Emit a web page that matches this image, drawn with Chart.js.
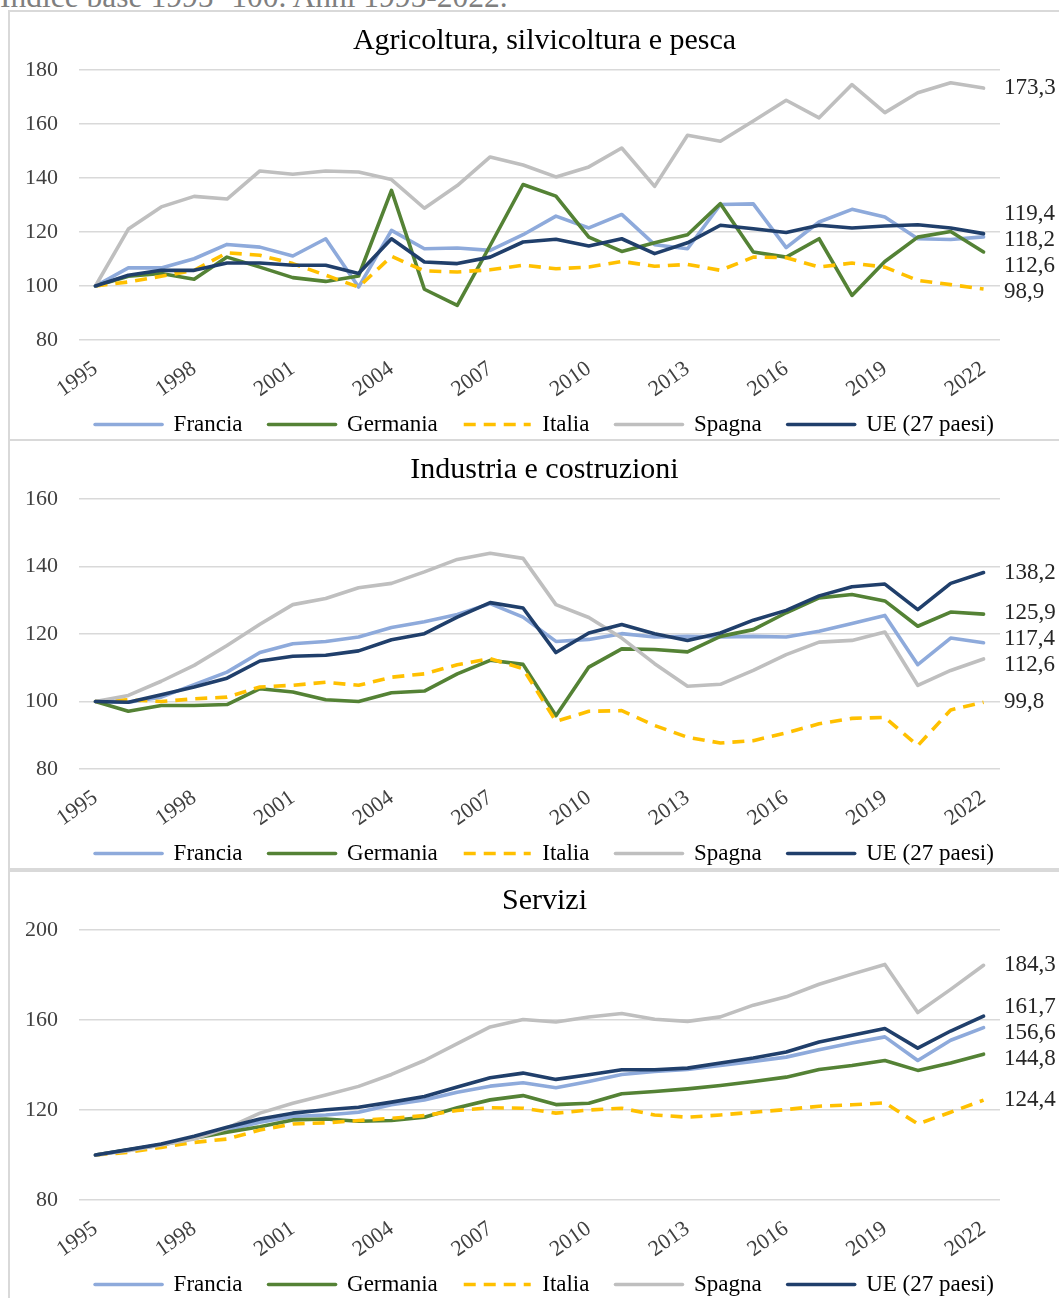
<!DOCTYPE html>
<html lang="it">
<head>
<meta charset="utf-8">
<title>Indice base 1995=100</title>
<script src="https://cdn.jsdelivr.net/npm/chart.js@4.4.1/dist/chart.umd.min.js"></script>
<style>
  html, body { margin: 0; padding: 0; background: #fff; }
  body { width: 1059px; height: 1298px; position: relative; overflow: hidden;
         font-family: 'Liberation Serif', 'Times New Roman', serif; }
  .note { position: absolute; left: 0; top: -19px; font-size: 31.5px; line-height: 31px;
          color: #7f7f7f; white-space: nowrap; }
  .panel { position: absolute; left: 8px; width: 1075px; height: 431px;
           border: 2px solid #d9d9d9; box-sizing: border-box; background: #fff; }
  .panel canvas { position: absolute; left: 0; top: 0; }
</style>
</head>
<body>
<div class="note">Indice base 1995=100. Anni 1995-2022.</div>
<div class="panel" style="top:10px"><canvas id="agr" width="1069" height="427"></canvas></div>
<div class="panel" style="top:439px"><canvas id="ind" width="1069" height="427"></canvas></div>
<div class="panel" style="top:870px"><canvas id="ser" width="1069" height="427"></canvas></div>
<script>
'use strict';

// ------------------------------------------------------------------ data
const years = ['1995', '1996', '1997', '1998', '1999', '2000', '2001', '2002', '2003', '2004',
  '2005', '2006', '2007', '2008', '2009', '2010', '2011', '2012', '2013', '2014',
  '2015', '2016', '2017', '2018', '2019', '2020', '2021', '2022'];

const countries = ['Francia', 'Germania', 'Italia', 'Spagna', 'UE (27 paesi)'];

// Agricoltura, silvicoltura e pesca
const agrFrancia  = [100, 106.7, 106.7, 110.1, 115.4, 114.4, 111.1, 117.5, 99.6, 120.6, 113.8, 114.1, 113.2, 119.0, 125.9, 121.5, 126.5, 115.3, 113.8, 130.2, 130.4, 114.2, 123.7, 128.4, 125.6, 117.5, 117.2, 118.2];
const agrGermania = [100, 103.6, 104.6, 102.5, 110.7, 107.0, 103.1, 101.7, 103.7, 135.4, 98.8, 92.8, 115.0, 137.6, 133.3, 118.1, 112.8, 116.0, 119.0, 130.5, 112.6, 110.7, 117.5, 96.5, 109.1, 118.1, 120.2, 112.6];
const agrItalia   = [100, 101.5, 103.6, 105.8, 112.3, 111.4, 108.3, 104.0, 99.6, 111.0, 105.6, 105.2, 106.0, 107.7, 106.4, 107.0, 109.1, 107.3, 108.0, 105.8, 110.7, 110.5, 107.0, 108.5, 107.0, 102.1, 100.5, 98.9];
const agrSpagna   = [100, 121.1, 129.3, 133.2, 132.2, 142.6, 141.4, 142.6, 142.2, 139.4, 128.8, 137.2, 147.8, 144.8, 140.4, 144.1, 151.1, 136.9, 155.8, 153.6, 161.1, 168.8, 162.3, 174.6, 164.2, 171.6, 175.3, 173.3];
const agrUE       = [100, 104.0, 105.8, 105.8, 108.5, 108.5, 107.7, 107.7, 104.6, 117.5, 108.9, 108.3, 110.7, 116.3, 117.3, 114.8, 117.5, 112.0, 116.0, 122.5, 121.2, 119.8, 122.5, 121.5, 122.2, 122.7, 121.5, 119.4];

// Industria e costruzioni
const indFrancia  = [100, 99.8, 101.3, 105.0, 108.7, 114.5, 117.1, 117.8, 119.1, 121.9, 123.6, 125.8, 129.0, 125.0, 117.8, 118.4, 120.1, 119.1, 119.3, 119.1, 119.3, 119.1, 120.8, 123.1, 125.5, 110.9, 118.8, 117.4];
const indGermania = [100, 97.1, 98.8, 98.8, 99.1, 103.8, 102.8, 100.5, 100.0, 102.6, 103.1, 108.2, 112.2, 111.0, 95.8, 110.2, 115.6, 115.4, 114.7, 119.3, 121.3, 126.3, 130.7, 131.7, 129.8, 122.3, 126.5, 125.9];
const indItalia   = [100, 100.5, 100.0, 100.8, 101.3, 104.3, 104.8, 105.7, 104.8, 107.2, 108.2, 110.9, 112.7, 109.7, 94.1, 97.1, 97.3, 92.9, 89.4, 87.7, 88.4, 90.7, 93.4, 95.0, 95.3, 86.9, 97.5, 99.8];
const indSpagna   = [100, 101.8, 106.0, 110.7, 116.6, 122.9, 128.7, 130.5, 133.7, 135.0, 138.4, 142.1, 143.9, 142.4, 128.7, 124.9, 118.8, 111.2, 104.5, 105.1, 109.2, 113.9, 117.6, 118.1, 120.6, 104.8, 109.2, 112.6];
const indUE       = [100, 99.8, 102.0, 104.3, 106.9, 112.0, 113.4, 113.7, 115.0, 118.3, 120.1, 125.0, 129.3, 127.7, 114.5, 120.3, 122.8, 120.1, 118.1, 120.3, 124.1, 127.0, 131.3, 134.0, 134.8, 127.2, 135.0, 138.2];

// Servizi
const serFrancia  = [100, 102.2, 104.6, 107.9, 111.1, 114.6, 117.1, 117.8, 119.0, 122.3, 124.5, 127.9, 130.6, 132.1, 129.9, 132.7, 135.8, 137.1, 138.0, 139.8, 141.6, 143.5, 146.8, 149.8, 152.5, 142.0, 151.0, 156.6];
const serGermania = [100, 102.3, 104.5, 107.4, 110.1, 112.6, 115.6, 116.0, 115.0, 115.3, 116.8, 121.0, 124.5, 126.4, 122.4, 123.0, 127.2, 128.2, 129.4, 130.9, 132.7, 134.6, 138.0, 139.8, 142.0, 137.6, 140.9, 144.8];
const serItalia   = [100, 101.2, 103.4, 105.6, 107.1, 111.1, 113.8, 114.3, 115.3, 116.3, 117.5, 119.8, 121.0, 120.8, 118.6, 120.0, 120.8, 117.8, 116.8, 117.8, 119.0, 120.2, 121.7, 122.3, 123.2, 113.8, 119.0, 124.4];
const serSpagna   = [100, 101.9, 104.5, 107.1, 111.9, 118.6, 123.0, 126.7, 130.5, 135.8, 142.0, 149.5, 156.9, 160.2, 159.1, 161.3, 162.9, 160.3, 159.4, 161.4, 166.6, 170.3, 175.9, 180.4, 184.7, 163.3, 173.6, 184.3];
const serUE       = [100, 102.4, 104.9, 108.3, 112.3, 116.0, 118.6, 120.1, 121.2, 123.5, 126.0, 130.2, 134.3, 136.4, 133.6, 135.7, 137.9, 137.9, 138.6, 140.9, 143.1, 145.8, 150.2, 153.2, 156.2, 147.5, 155.1, 161.7];

// ----------------------------------------------------------------- style
const FONT = "'Liberation Serif', 'Times New Roman', serif";
const COLORS = ['#8eaadb', '#548235', '#ffc000', '#bfbfbf', '#203f6b'];
const DASHED = [false, false, true, false, false];   // Italia is the dashed one
const TICK = '#404040';
const GRID = '#d9d9d9';
const LINE_W = 3.6;

function comma(v) { return v.toFixed(1).replace('.', ','); }

// Labels at the right end of each line, pushed apart when they crowd
// (same value-ordered stacking that the spreadsheet does).
function spread(items, gap) {
  items.sort(function (a, b) { return a.y - b.y; });
  let groups = items.map(function (it) { return { items: [it], y: it.y }; });
  let merged = true;
  while (merged) {
    merged = false;
    for (let i = 0; i < groups.length - 1; i++) {
      const a = groups[i], b = groups[i + 1];
      const aBottom = a.y + (a.items.length - 1) * gap / 2;
      const bTop = b.y - (b.items.length - 1) * gap / 2;
      if (bTop - aBottom < gap) {
        const all = a.items.concat(b.items);
        const mean = all.reduce(function (s, it) { return s + it.y; }, 0) / all.length;
        groups.splice(i, 2, { items: all, y: mean });
        merged = true;
        break;
      }
    }
  }
  groups.forEach(function (g) {
    g.items.forEach(function (it, k) { it.ly = g.y + (k - (g.items.length - 1) / 2) * gap; });
  });
}

const endLabels = {
  id: 'endLabels',
  afterDatasetsDraw(chart) {
    const ys = chart.scales.y;
    const items = chart.data.datasets.map(function (d) {
      const v = d.data[d.data.length - 1];
      return { text: comma(v), y: ys.getPixelForValue(v) };
    });
    spread(items, 26);
    const ctx = chart.ctx;
    ctx.save();
    ctx.font = '23px ' + FONT;
    ctx.fillStyle = '#262626';
    ctx.textAlign = 'left';
    ctx.textBaseline = 'middle';
    items.forEach(function (it) { ctx.fillText(it.text, chart.chartArea.right + 4, it.ly); });
    ctx.restore();
  }
};

// Bottom legend sits tight under the rotated year labels.
const legendHeight = {
  id: 'legendHeight',
  beforeInit(chart) {
    const fit = chart.legend.fit;
    chart.legend.fit = function () { fit.call(this); this.height = 52; };
  }
};

// With usePointStyle the default legend items take the (unused) point style,
// so copy the real line width and dash back from each dataset.
function legendItems(chart) {
  const items = Chart.defaults.plugins.legend.labels.generateLabels(chart);
  items.forEach(function (it) {
    const ds = chart.data.datasets[it.datasetIndex];
    it.lineWidth = ds.borderWidth;
    it.lineDash = ds.borderDash;
    it.strokeStyle = ds.borderColor;
    it.lineCap = ds.borderCapStyle;
  });
  return items.sort(function (a, b) { return a.datasetIndex - b.datasetIndex; });
}

function line(label, data, i) {
  return {
    label: label,
    data: data,
    borderColor: COLORS[i],
    backgroundColor: COLORS[i],
    borderWidth: LINE_W,
    borderDash: DASHED[i] ? [12, 8] : [],
    borderCapStyle: DASHED[i] ? 'butt' : 'round',
    borderJoinStyle: 'round',
    pointRadius: 0,
    tension: 0,
    order: countries.length - i,   // UE drawn last, on top
  };
}

function makePanel(id, title, series, yMin, yMax, step) {
  return new Chart(document.getElementById(id), {
    type: 'line',
    data: {
      labels: years,
      datasets: series.map(function (s, i) { return line(countries[i], s, i); }),
    },
    options: {
      responsive: false,
      animation: false,
      events: [],
      layout: { padding: 0 },
      plugins: {
        tooltip: { enabled: false },
        title: {
          display: true, text: title, color: '#000',
          font: { family: FONT, size: 30, weight: 'normal' },
          padding: { top: 11, bottom: 11 },
        },
        legend: {
          position: 'bottom',
          labels: {
            usePointStyle: true, pointStyle: 'line', pointStyleWidth: 67,
            padding: 26, color: '#000',
            font: { family: FONT, size: 23 },
            generateLabels: legendItems,
          },
        },
      },
      scales: {
        x: {
          offset: true,
          grid: { display: false },
          border: { display: false },
          ticks: {
            autoSkip: false, minRotation: 35, maxRotation: 35, padding: 8,
            color: TICK, font: { family: FONT, size: 22 },
            callback: function (v, i) { return i % 3 === 0 ? this.getLabelForValue(v) : ''; },
          },
          afterFit: function (s) {
            s.height = 47;
            // rotated years hang below the axis box; don't clip them to it
            s._computeLabelArea = function () { return undefined; };
          },
        },
        y: {
          min: yMin, max: yMax,
          grid: { color: GRID, lineWidth: 1.5, drawTicks: false },
          border: { display: false },
          ticks: { stepSize: step, padding: 21, color: TICK, font: { family: FONT, size: 22 } },
          afterFit: function (s) { s.width = 69; },
        },
        // empty right-hand strip that holds the end-of-line values
        pad: {
          type: 'linear', position: 'right',
          grid: { display: false }, border: { display: false }, ticks: { display: false },
          afterFit: function (s) { s.width = 79; },
        },
      },
    },
    plugins: [legendHeight, endLabels],
  });
}

makePanel('agr', 'Agricoltura, silvicoltura e pesca',
  [agrFrancia, agrGermania, agrItalia, agrSpagna, agrUE], 80, 180, 20);
makePanel('ind', 'Industria e costruzioni',
  [indFrancia, indGermania, indItalia, indSpagna, indUE], 80, 160, 20);
makePanel('ser', 'Servizi',
  [serFrancia, serGermania, serItalia, serSpagna, serUE], 80, 200, 40);
</script>
</body>
</html>
